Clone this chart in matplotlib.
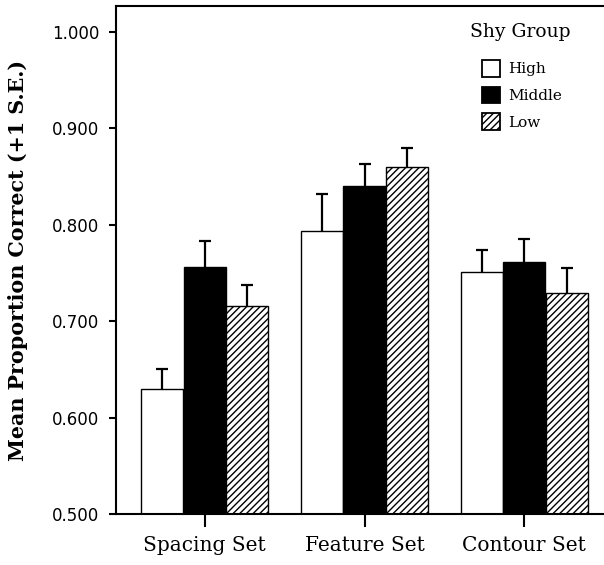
import matplotlib
matplotlib.use("Agg")
import matplotlib.pyplot as plt
import numpy as np
from matplotlib.patches import Patch

categories = ["Spacing Set", "Feature Set", "Contour Set"]
groups = ["High", "Middle", "Low"]
means = {
    "High":   [0.630, 0.794, 0.751],
    "Middle": [0.756, 0.840, 0.761],
    "Low":    [0.716, 0.860, 0.729],
}
se = {
    "High":   [0.020, 0.038, 0.023],
    "Middle": [0.027, 0.023, 0.024],
    "Low":    [0.022, 0.020, 0.026],
}
yticks = [0.5, 0.6, 0.7, 0.8, 0.9, 1.0]
ytick_labels = ["0.500", "0.600", "0.700", "0.800", "0.900", "1.000"]

styles = {
    "High":   dict(facecolor="white", hatch=None),
    "Middle": dict(facecolor="black", hatch=None),
    "Low":    dict(facecolor="white", hatch="/////"),
}

plt.rcParams["hatch.linewidth"] = 1.0
fig = plt.figure(figsize=(6.04, 5.65), dpi=100)
ax = fig.add_axes([116/604, 51/565, 497/604, 508/565])

x = np.arange(len(categories))
width = 0.265
offsets = [-0.266, 0.0, 0.266]
for g, off in zip(groups, offsets):
    st = styles[g]
    ax.bar(x + off, means[g], width=width, bottom=0, facecolor=st["facecolor"],
           edgecolor="black", linewidth=1.0, hatch=st["hatch"], zorder=2)
    # symmetric error bar drawn beneath the bar, so only the upper half shows
    ax.errorbar(x + off, means[g], yerr=se[g], fmt="none",
                ecolor="black", elinewidth=1.6, capsize=4.5, capthick=1.6, zorder=1)

ax.set_ylim(0.5, 1.027)
ax.set_xlim(-0.556, 2.556)
ax.set_yticks(yticks)
ax.set_yticklabels(ytick_labels, fontsize=12, family="DejaVu Sans")
ax.set_xticks(x)
ax.set_xticklabels(categories, fontsize=14.5, family="DejaVu Serif")
ax.tick_params(axis="y", direction="out", length=5, width=1.5, pad=7)
ax.tick_params(axis="x", direction="out", length=9, width=1.5, pad=7)
for s in ax.spines.values():
    s.set_linewidth(1.5)

ax.set_ylabel("Mean Proportion Correct (+1 S.E.)", fontsize=14.9,
              family="DejaVu Serif", fontweight="bold", labelpad=17)

handles = [Patch(facecolor=styles[g]["facecolor"], edgecolor="black",
                 hatch=styles[g]["hatch"], linewidth=1.3) for g in groups]
leg = ax.legend(handles, groups, frameon=False,
                loc="upper left", bbox_to_anchor=(0.7364, 0.8937),
                prop={"family": "DejaVu Serif", "size": 11},
                handlelength=1.2, handleheight=1.3, handletextpad=0.5,
                labelspacing=0.65, borderpad=0.0, borderaxespad=0.0)
ax.text(0.813, 0.949, "Shy Group", transform=ax.transAxes, ha="center",
        va="center", fontsize=13.5, family="DejaVu Serif")

fig.savefig("out.png", dpi=100)
